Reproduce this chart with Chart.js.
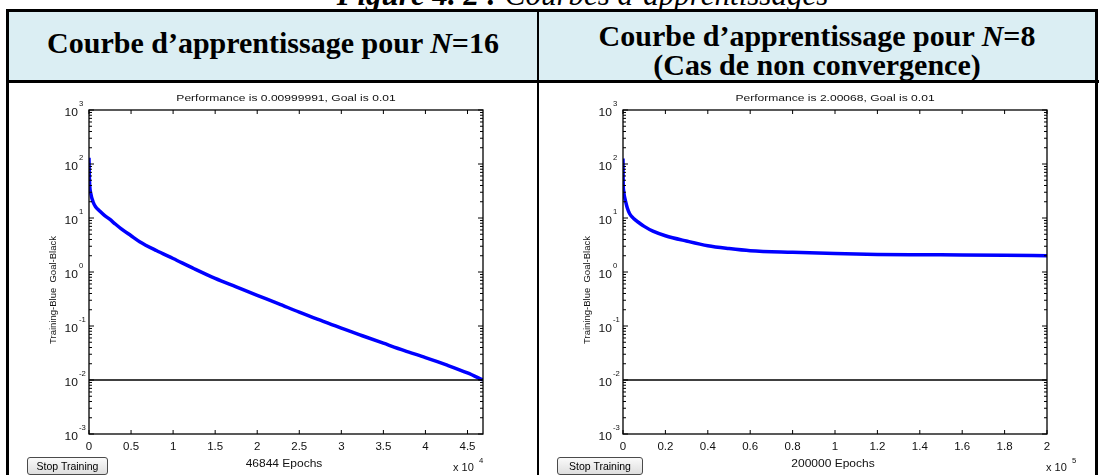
<!DOCTYPE html>
<html>
<head>
<meta charset="utf-8">
<script src="https://cdn.jsdelivr.net/npm/chart.js@4.4.1/dist/chart.umd.min.js"></script>
<style>
  body{margin:0;width:1099px;height:475px;overflow:hidden;background:#fff;position:relative;font-family:"Liberation Serif",serif;}
  .caption{position:absolute;left:0;width:1099px;top:-23px;line-height:31px;text-align:center;font:italic 31px "Liberation Serif";white-space:nowrap;}
  .caption span{display:inline-block;margin-left:66px;}
  .frame{position:absolute;left:6px;top:9px;width:1092px;height:480px;border:3px solid #000;box-sizing:border-box;}
  .head{position:absolute;left:9px;top:12px;width:1089px;height:68px;background:#dbeef3;}
  .hline{position:absolute;left:6px;top:80px;width:1093px;height:3px;background:#000;}
  .vline{position:absolute;left:537px;top:9px;width:2px;height:470px;background:#000;}
  .htxt{position:absolute;text-align:center;font:bold 30px "Liberation Serif";line-height:29px;white-space:nowrap;}
  .htxt span{display:inline-block;transform:scaleX(1.0);}
  .btn{position:absolute;height:18px;box-sizing:border-box;border:1px solid #4a4a4a;border-radius:3px;
       background:linear-gradient(#fafafa,#dedede);font:10.5px "Liberation Sans";line-height:16px;text-align:center;color:#000;}
  canvas{position:absolute;}
</style>
</head>
<body>
<div class="caption"><span><b>Figure 4. 2 :</b> Courbes d’apprentissages</span></div>
<div class="head"></div>
<div class="frame"></div>
<div class="hline"></div>
<div class="vline"></div>
<div class="htxt" style="left:9px;width:528px;top:28px;"><span>Courbe d’apprentissage pour <i>N</i>=16</span></div>
<div class="htxt" style="left:539px;width:556px;top:21px;"><span>Courbe d’apprentissage pour <i>N</i>=8</span><br><span>(Cas de non convergence)</span></div>

<canvas id="left" width="528" height="391" style="left:9px;top:84px;"></canvas>
<canvas id="right" width="556" height="391" style="left:540px;top:84px;"></canvas>

<div class="btn" style="left:27px;top:457px;width:81px;">Stop Training</div>
<div class="btn" style="left:557px;top:457px;width:86px;">Stop Training</div>

<script>
// N=16 run (converged)
const leftEpochs = [0, 30, 80, 200, 476, 800, 1267, 1800, 2455, 3100, 3840, 5000, 6020, 8000, 10000, 12500, 15000, 17500, 20000, 22500, 25000, 27500, 30000, 32500, 35000, 37500, 40000, 42500, 45000, 46844];
const leftPerf   = [130, 70, 41, 29, 20, 16, 13.5, 11.3, 9.5, 7.8, 6.3, 4.7, 3.65, 2.5, 1.78, 1.15, 0.76, 0.53, 0.37, 0.26, 0.18, 0.128, 0.091, 0.066, 0.048, 0.035, 0.026, 0.019, 0.0135, 0.0100];

// N=8 run (no convergence)
const rightEpochs = [0, 30, 80, 300, 700, 1260, 2000, 3140, 5000, 7850, 10000, 14100, 20000, 29900, 40000, 50000, 60000, 80000, 100000, 120000, 140000, 160000, 180000, 200000];
const rightPerf   = [126, 70, 45, 32, 25, 20, 15.5, 12, 9.8, 8.0, 7.0, 5.7, 4.7, 3.75, 3.07, 2.72, 2.48, 2.31, 2.19, 2.12, 2.09, 2.07, 2.04, 2.00];

const goal = 0.01;
const leftTicks  = [0, 0.5, 1, 1.5, 2, 2.5, 3, 3.5, 4, 4.5];    // x 10^4
const rightTicks = [0, 0.2, 0.4, 0.6, 0.8, 1, 1.2, 1.4, 1.6, 1.8, 2]; // x 10^5
const yDecades = [-3, -2, -1, 0, 1, 2, 3];

function txt(ctx, s, x, y, align, size, sx){
  ctx.save();
  ctx.translate(x, y);
  ctx.scale(sx || 1.15, 1);
  ctx.font = size + "px 'Liberation Sans', Arial";
  ctx.textAlign = align;
  ctx.textBaseline = "middle";
  ctx.fillText(s, 0, 0);
  ctx.restore();
}

function line(ctx, x1, y1, x2, y2){
  ctx.beginPath(); ctx.moveTo(x1, y1); ctx.lineTo(x2, y2); ctx.stroke();
}

const matlabAxes = {
  id: "matlabAxes",
  afterDraw(chart, args, o){
    const {ctx, chartArea: a, scales: {x, y}} = chart;
    ctx.save();
    ctx.strokeStyle = "#000";
    ctx.fillStyle = "#111";
    ctx.lineWidth = 1.3;
    ctx.strokeRect(a.left, a.top, a.right - a.left, a.bottom - a.top);
    ctx.lineWidth = 1;

    // x ticks
    o.ticks.forEach(t => {
      const px = x.getPixelForValue(t * o.mult);
      line(ctx, px, a.bottom, px, a.bottom - 4);
      line(ctx, px, a.top, px, a.top + 4);
      txt(ctx, String(t), px, a.bottom + 13, "center", 10, 1.15);
    });

    // y ticks, log decades + minor
    yDecades.forEach(e => {
      const py = y.getPixelForValue(Math.pow(10, e));
      line(ctx, a.left, py, a.left + 5, py);
      line(ctx, a.right, py, a.right - 5, py);
      txt(ctx, "10", a.left - 11, py + 3, "right", 10.5, 1.15);
      txt(ctx, String(e), a.left - 10, py - 6, "left", 7, 1.1);
      if (e < 3) {
        for (let m = 2; m <= 9; m++) {
          const pm = y.getPixelForValue(m * Math.pow(10, e));
          line(ctx, a.left, pm, a.left + 3, pm);
          line(ctx, a.right, pm, a.right - 3, pm);
        }
      }
    });

    const cx = (a.left + a.right) / 2;
    txt(ctx, o.title, cx, a.top - 12, "center", 9.5, 1.27);
    txt(ctx, o.xlabel, cx - 2, a.bottom + 30, "center", 10, 1.2);
    txt(ctx, "x 10", a.right + o.expX, a.bottom + 34, "left", 10, 1.1);
    txt(ctx, String(o.pow), a.right + o.expX + 26, a.bottom + 27, "left", 7, 1.1);

    // y axis title
    ctx.save();
    ctx.translate(a.left - 36, 206);
    ctx.rotate(-Math.PI / 2);
    ctx.font = "9.5px 'Liberation Sans', Arial";
    ctx.textAlign = "center";
    ctx.textBaseline = "middle";
    ctx.fillText("Training-Blue  Goal-Black", 0, 0);
    ctx.restore();
    ctx.restore();
  }
};

function makeChart(id, epochs, perf, xMax, pad, axes){
  const pts = epochs.map((e, i) => ({x: e, y: perf[i]}));
  new Chart(document.getElementById(id), {
    type: "line",
    data: {
      datasets: [
        {data: [{x: 0, y: goal}, {x: xMax, y: goal}], borderColor: "#000", borderWidth: 1.5, pointRadius: 0},
        {data: pts, borderColor: "#0000ff", borderWidth: 3.5, pointRadius: 0, cubicInterpolationMode: "monotone"}
      ]
    },
    options: {
      responsive: false,
      animation: false,
      devicePixelRatio: 1,
      layout: {padding: pad},
      scales: {
        x: {type: "linear", min: 0, max: xMax, display: false},
        y: {type: "logarithmic", min: 1e-3, max: 1e3, display: false}
      },
      plugins: {legend: {display: false}, tooltip: {enabled: false}, matlabAxes: axes}
    },
    plugins: [matlabAxes]
  });
}

makeChart("left", leftEpochs, leftPerf, 46844,
  {left: 80, right: 54, top: 26, bottom: 41},
  {ticks: leftTicks, mult: 1e4, pow: 4, expX: -30,
   title: "Performance is 0.00999991, Goal is 0.01", xlabel: "46844 Epochs"});

makeChart("right", rightEpochs, rightPerf, 200000,
  {left: 83, right: 49, top: 26, bottom: 41},
  {ticks: rightTicks, mult: 1e5, pow: 5, expX: -1,
   title: "Performance is 2.00068, Goal is 0.01", xlabel: "200000 Epochs"});
</script>
</body>
</html>
